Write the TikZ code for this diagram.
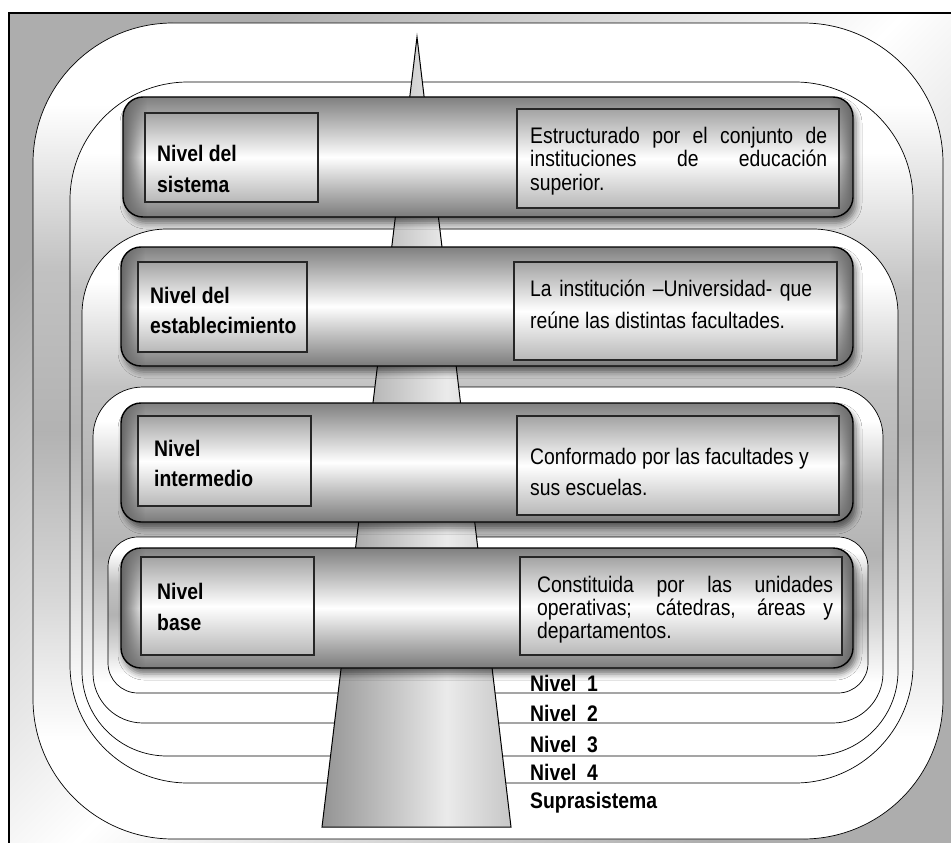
\documentclass[tikz,border=0pt]{standalone}
\usepackage{fontspec}
\setmainfont{Liberation Sans}[FakeStretch=0.86]
\usetikzlibrary{shadows.blur,fadings}
\tikzfading[name=fadeL, left color=transparent!0, right color=transparent!100]
\tikzfading[name=fadeR, left color=transparent!100, right color=transparent!0]
\pgfdeclareverticalshading{ringsh}{100bp}{color(0bp)=(white); color(31bp)=(white); color(40bp)=(black!16); color(50bp)=(black!30); color(60bp)=(black!24); color(70bp)=(white); color(100bp)=(white)}
\pgfdeclarehorizontalshading{spikesh}{100bp}{color(0bp)=(black!42); color(25bp)=(black!42); color(58bp)=(black!8); color(75bp)=(black!22); color(100bp)=(black!22)}
\newcommand\fsz{\fontsize{22.5}{26}\selectfont}
\tikzset{
  ring/.style={draw=black, line width=0.7pt, shading=ringsh},
  bar/.style={rounded corners=20pt, top color=black!50, bottom color=black!52, middle color=white,
    blur shadow={shadow xshift=3pt, shadow yshift=-6pt, shadow blur radius=6pt, shadow opacity=55}},
  inbox/.style={draw=black!85, line width=1.2pt, top color=black!36, bottom color=black!28, middle color=white},
  lbl/.style={font=\fsz\bfseries, anchor=base west, inner sep=0pt},
  txt/.style={font=\fsz, anchor=base west, inner sep=0pt},
}
\newcommand\metalbar[4]{%
  \path[bar] (#1,#2) rectangle (#3,#4);
  \begin{scope}
    \clip[rounded corners=20pt] (#1,#2) rectangle (#3,#4);
    \fill[black!60, path fading=fadeL] (#1,#2) rectangle +(24,140);
    \fill[black!60, path fading=fadeR] (#3,#2) rectangle +(-24,140);
  \end{scope}
  \draw[line width=1.4pt, rounded corners=20pt] (#1,#2) rectangle (#3,#4);
}
\begin{document}
\begin{tikzpicture}[x=1pt,y=-1pt]
\useasboundingbox (0,0) rectangle (951,843);
\clip (0,0) rectangle (951,843);
\fill[white] (0,0) rectangle (951,843);
% background frame
\path[shading=axis, top color=black!32, bottom color=black!32, middle color=white, shading angle=45]
  (9,13) rectangle (960,855);
\draw[line width=1.3pt] (9,860) -- (9,13) -- (960,13);
% nested rings
\path[ring, rounded corners=140pt] (33,23) rectangle (943,839);
\path[ring, rounded corners=118pt] (70,82) rectangle (913,783);
\path[ring, rounded corners=85pt] (82,229) rectangle (898,756);
\path[ring, rounded corners=50pt] (93,387) rectangle (883,723);
\path[ring, rounded corners=30pt] (108,537) rectangle (868,693);
% spike
\coordinate (apex) at (417,37);
\coordinate (bl) at (322,827);
\coordinate (br) at (511,827);
\path[draw=black, line width=1pt, shading=spikesh]
  (apex) -- (br) -- (bl) -- cycle;
% bars
\metalbar{123}{97}{853}{217}
\metalbar{121}{247}{853}{366}
\metalbar{121}{403}{853}{522}
\metalbar{121}{548}{853}{668}
% inner boxes
\path[inbox] (145,113) rectangle (318,202);
\path[inbox] (517,109) rectangle (839,208);
\path[inbox] (138,262) rectangle (307,352);
\path[inbox] (514,262) rectangle (837,360);
\path[inbox] (138,416) rectangle (311,506);
\path[inbox] (517,416) rectangle (839,515);
\path[inbox] (141,557) rectangle (314,655);
\path[inbox] (520,557) rectangle (842,655);
% left labels
\node[lbl] (l1a) at (157,161) {Nivel del};
\node[lbl] (l1b) at (157,192) {sistema};
\node[lbl] (l2a) at (150,303) {Nivel del};
\node[lbl] (l2b) at (150,333) {establecimiento};
\node[lbl] (l3a) at (154,456) {Nivel};
\node[lbl] (l3b) at (154,486) {intermedio};
\node[lbl] (l4a) at (157,599) {Nivel};
\node[lbl] (l4b) at (157,630) {base};
% right texts
\node[txt] (r1a) at (530,143) {\makebox[297pt][s]{Estructurado por el conjunto de}};
\node[txt] (r1b) at (530,166) {\makebox[297pt][s]{instituciones de educación}};
\node[txt] (r1c) at (530,190) {superior.};
\node[txt] (r2a) at (530,296) {\makebox[282pt][s]{La institución –Universidad- que}};
\node[txt] (r2b) at (530,328) {reúne las distintas facultades.};
\node[txt] (r3a) at (530,464) {Conformado por las facultades y};
\node[txt] (r3b) at (530,495) {sus escuelas.};
\node[txt] (r4a) at (537,592) {\makebox[296pt][s]{Constituida por las unidades}};
\node[txt] (r4b) at (537,615) {\makebox[296pt][s]{operativas; cátedras, áreas y}};
\node[txt] (r4c) at (537,638) {departamentos.};
% level labels
\node[lbl] (n1) at (530,691) {Nivel~~1};
\node[lbl] (n2) at (530,721) {Nivel~~2};
\node[lbl] (n3) at (530,752) {Nivel~~3};
\node[lbl] (n4) at (530,780) {Nivel~~4};
\node[lbl] (ns) at (530,808) {Suprasistema};
\end{tikzpicture}
\end{document}
